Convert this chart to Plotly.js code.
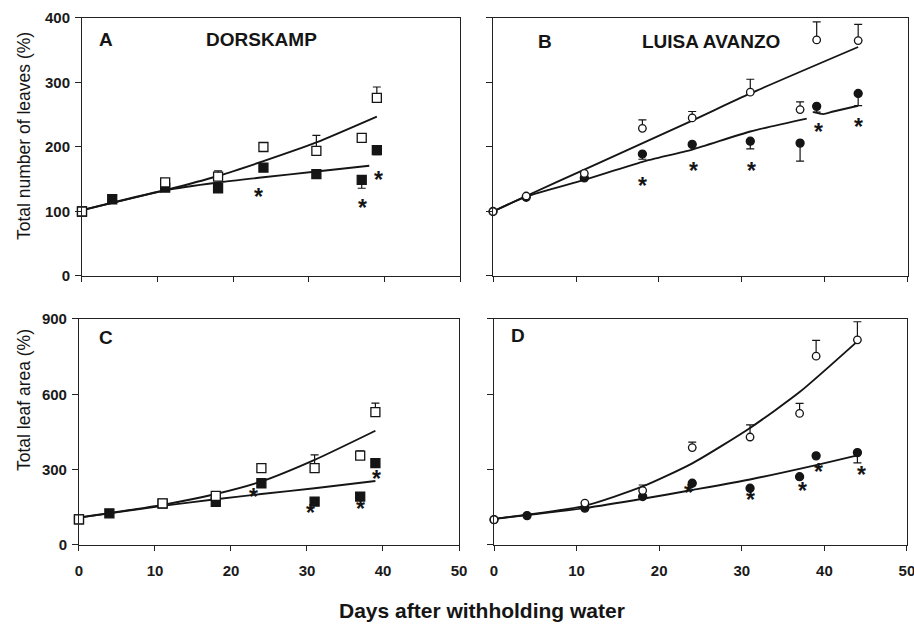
<!DOCTYPE html>
<html><head><meta charset="utf-8">
<script src="https://cdn.plot.ly/plotly-3.0.1.min.js"></script>
<style>html,body{margin:0;padding:0;background:#fff}#chart{width:914px;height:624px}</style>
</head><body><div id="chart"></div>
<script>
// ---------- Panel A : DORSKAMP, total number of leaves (%) ----------
const aCtrlX = [0, 11, 18, 24, 31, 37, 39];
const aCtrlY = [100, 145, 154, 200, 194, 214, 276];
const aCtrlErr = [0, 0, 9, 0, 24, 0, 17];
const aDryX = [0, 4, 11, 18, 24, 31, 37, 39];
const aDryY = [100, 119, 137, 136, 168, 158, 149, 195];
const aDryErr = [0, 0, 0, 0, 0, 6, 13, 7];
const aStarX = [23.4, 37.1, 39.2];
const aStarY = [131, 115, 158];
const aFitCtrlX = [0, 11, 18, 24, 31, 39];
const aFitCtrlY = [102, 133, 155, 178, 207, 247];
const aFitDryX = [0, 11, 18, 24, 31, 38];
const aFitDryY = [102, 133, 145, 153, 162, 171];

// ---------- Panel B : LUISA AVANZO, total number of leaves (%) ----------
const bCtrlX = [0, 4, 11, 18, 24, 31, 37, 39, 44];
const bCtrlY = [100, 124, 159, 229, 245, 285, 258, 366, 365];
const bCtrlErr = [0, 0, 0, 13, 10, 20, 12, 28, 25];
const bDryX = [0, 4, 11, 18, 24, 31, 37, 39, 44];
const bDryY = [100, 122, 152, 189, 204, 209, 206, 263, 283];
const bDryErr = [0, 0, 0, 8, 0, 12, 28, 9, 19];
const bStarX = [18, 24.2, 31.1, 39.2, 44];
const bStarY = [149, 172, 172, 233, 240];
const bFitCtrlX = [0, 4, 11, 24, 31, 44];
const bFitCtrlY = [100, 124, 165, 241, 283, 355];
const bFitDryX = [0, 4, 11, 18, 24, 31, 37.8];
const bFitDryY = [100, 123, 149, 177, 196, 224, 244];
const bFitDryTailX = [38.6, 39.8, 41, 44];
const bFitDryTailY = [254, 251, 255, 264];

// ---------- Panel C : DORSKAMP, total leaf area (%) ----------
const cCtrlX = [0, 11, 18, 24, 31, 37, 39];
const cCtrlY = [102, 166, 196, 306, 306, 356, 529];
const cCtrlErr = [0, 0, 0, 0, 53, 19, 36];
const cDryX = [0, 4, 11, 18, 24, 31, 37, 39];
const cDryY = [102, 126, 165, 172, 246, 173, 193, 326];
const cStarX = [23, 30.4, 37.1, 39.2];
const cStarY = [215, 153, 166, 286];
const cFitCtrlX = [0, 11, 18, 24, 31, 39];
const cFitCtrlY = [109, 160, 203, 253, 339, 455];
const cFitDryX = [0, 11, 18, 24, 31, 39];
const cFitDryY = [109, 156, 182, 203, 226, 255];

// ---------- Panel D : LUISA AVANZO, total leaf area (%) ----------
const dCtrlX = [0, 11, 18, 24, 31, 37, 39, 44];
const dCtrlY = [101, 167, 217, 388, 430, 524, 752, 817];
const dCtrlErr = [0, 0, 22, 22, 48, 40, 63, 72];
const dDryX = [0, 4, 11, 18, 24, 31, 37, 39, 44];
const dDryY = [101, 117, 147, 193, 246, 226, 272, 355, 368];
const dDryErr = [0, 0, 0, 0, 0, 0, 0, 0, 41];
const dStarX = [23.5, 31, 37.3, 39.3, 44.5];
const dStarY = [229, 202, 237, 314, 301];
const dFitCtrlX = [0, 11, 18, 24, 31, 37, 44];
const dFitCtrlY = [104, 156, 233, 325, 466, 609, 811];
const dFitDryX = [0, 11, 18, 24, 31, 39, 44];
const dFitDryY = [104, 147, 184, 219, 261, 318, 357];

// ---------- texts ----------
const panelLetters = ['A', 'B', 'C', 'D'];
const cultivarNames = ['DORSKAMP', 'LUISA AVANZO'];
const yTitles = ['Total number of leaves (%)', 'Total leaf area (%)'];
const xTitle = 'Days after withholding water';
const xTicks = [0, 10, 20, 30, 40, 50];
const leafTicks = [0, 100, 200, 300, 400];
const areaTicks = [0, 300, 600, 900];

const INK = '#151515';
const FONT = 'Liberation Sans, Arial, sans-serif';

function fit(x, y, xa, ya) {
  return {type: 'scatter', mode: 'lines', x: x, y: y, xaxis: xa, yaxis: ya,
    line: {color: INK, width: 1.9, shape: 'spline', smoothing: 0.6},
    hoverinfo: 'skip', showlegend: false, cliponaxis: false};
}
function pts(x, y, err, dir, sym, filled, size, xa, ya) {
  const zeros = err ? err.map(() => 0) : null;
  const t = {type: 'scatter', mode: 'markers', x: x, y: y, xaxis: xa, yaxis: ya,
    marker: {symbol: sym, size: size, color: filled ? INK : '#ffffff',
      line: {color: INK, width: 1.3}},
    showlegend: false, cliponaxis: false};
  if (err) {
    t.error_y = {type: 'data', symmetric: false,
      array: dir === 'up' ? err : zeros,
      arrayminus: dir === 'up' ? zeros : err,
      color: INK, thickness: 1.2, width: 4};
  }
  return t;
}
// significance asterisks as annotations (glyph centred on the point)
const starFont = {family: FONT, size: 23, color: INK, weight: 'bold'};
function starNotes(x, y, xa, ya) {
  return x.map((xv, i) => ({text: '*', xref: xa, yref: ya, x: xv, y: y[i], showarrow: false,
    xanchor: 'center', yanchor: 'middle', yshift: -6, font: starFont}));
}

const data = [
  fit(aFitCtrlX, aFitCtrlY, 'x', 'y'), fit(aFitDryX, aFitDryY, 'x', 'y'),
  pts(aDryX, aDryY, aDryErr, 'down', 'square', true, 9, 'x', 'y'),
  pts(aCtrlX, aCtrlY, aCtrlErr, 'up', 'square', false, 9, 'x', 'y'),

  fit(bFitCtrlX, bFitCtrlY, 'x2', 'y2'), fit(bFitDryX, bFitDryY, 'x2', 'y2'),
  fit(bFitDryTailX, bFitDryTailY, 'x2', 'y2'),
  pts(bDryX, bDryY, bDryErr, 'down', 'circle', true, 8, 'x2', 'y2'),
  pts(bCtrlX, bCtrlY, bCtrlErr, 'up', 'circle', false, 7.5, 'x2', 'y2'),

  fit(cFitCtrlX, cFitCtrlY, 'x3', 'y3'), fit(cFitDryX, cFitDryY, 'x3', 'y3'),
  pts(cDryX, cDryY, null, 'down', 'square', true, 9, 'x3', 'y3'),
  pts(cCtrlX, cCtrlY, cCtrlErr, 'up', 'square', false, 9, 'x3', 'y3'),

  fit(dFitCtrlX, dFitCtrlY, 'x4', 'y4'), fit(dFitDryX, dFitDryY, 'x4', 'y4'),
  pts(dDryX, dDryY, dDryErr, 'down', 'circle', true, 8, 'x4', 'y4'),
  pts(dCtrlX, dCtrlY, dCtrlErr, 'up', 'circle', false, 7.5, 'x4', 'y4')
];

const tickFont = {family: FONT, size: 15, color: '#1a1a1a', weight: 'bold'};
function xax(domain, anchor, labels) {
  return {domain: domain, anchor: anchor, range: [0, 50], tickmode: 'array', tickvals: xTicks,
    showticklabels: labels, tickfont: tickFont, ticks: 'outside', ticklen: 5, tickwidth: 1,
    tickcolor: '#222', showline: true, mirror: true, linecolor: '#222', linewidth: 1,
    ticklabelstandoff: 7, ticklabeloverflow: 'allow',
    showgrid: false, zeroline: false, fixedrange: true};
}
function yax(domain, anchor, range, vals, labels) {
  return {domain: domain, anchor: anchor, range: range, tickmode: 'array', tickvals: vals,
    showticklabels: labels, tickfont: tickFont, ticks: 'outside', ticklen: 6, tickwidth: 1,
    tickcolor: '#222', showline: true, mirror: true, linecolor: '#222', linewidth: 1,
    ticklabelstandoff: 2, showgrid: false, zeroline: false, fixedrange: true};
}
function xin(over, anchor) {
  return {overlaying: over, anchor: anchor, range: [0, 50], tickmode: 'array', tickvals: xTicks,
    showticklabels: false, ticks: 'inside', ticklen: 5, tickcolor: '#222', showline: false,
    showgrid: false, zeroline: false, fixedrange: true};
}
function yin(over, anchor, range, vals) {
  return {overlaying: over, anchor: anchor, range: range, tickmode: 'array', tickvals: vals,
    showticklabels: false, ticks: 'inside', ticklen: 5, tickcolor: '#222', showline: false,
    showgrid: false, zeroline: false, fixedrange: true};
}

const topY = [0.5577, 0.9712], botY = [0.1266, 0.4888];
const lab = {family: FONT, size: 19, color: INK, weight: 'bold'};
const ytFont = {family: FONT, size: 17.5, color: INK};

const layout = {
  width: 914, height: 624, margin: {l: 0, r: 0, t: 0, b: 0},
  paper_bgcolor: '#fff', plot_bgcolor: '#fff', showlegend: false,
  xaxis: xax([0.0897, 0.5033], 'y', false),
  yaxis: yax(topY, 'x', [0, 400], leafTicks, true),
  xaxis2: xax([0.5394, 0.9934], 'y2', false),
  yaxis2: yax(topY, 'x2', [0, 400], leafTicks, false),
  xaxis3: xax([0.0864, 0.5022], 'y3', true),
  yaxis3: yax(botY, 'x3', [0, 900], areaTicks, true),
  xaxis4: xax([0.5405, 0.9923], 'y4', true),
  yaxis4: yax(botY, 'x4', [0, 900], areaTicks, false),
  xaxis5: xin('x', 'y'), yaxis5: yin('y', 'x', [0, 400], leafTicks),
  xaxis6: xin('x2', 'y2'), yaxis6: yin('y2', 'x2', [0, 400], leafTicks),
  xaxis7: xin('x3', 'y3'), yaxis7: yin('y3', 'x3', [0, 900], areaTicks),
  xaxis8: xin('x4', 'y4'), yaxis8: yin('y4', 'x4', [0, 900], areaTicks),
  annotations: [
    {text: panelLetters[0], xref: 'x', yref: 'y', x: 3.2, y: 366, showarrow: false, font: lab},
    {text: cultivarNames[0], xref: 'x', yref: 'y', x: 23.8, y: 366, showarrow: false, font: lab},
    {text: panelLetters[1], xref: 'x2', yref: 'y2', x: 6.3, y: 364, showarrow: false, font: lab},
    {text: cultivarNames[1], xref: 'x2', yref: 'y2', x: 26.3, y: 364, showarrow: false, font: lab},
    {text: panelLetters[2], xref: 'x3', yref: 'y3', x: 3.5, y: 828, showarrow: false, font: lab},
    {text: panelLetters[3], xref: 'x4', yref: 'y4', x: 2.9, y: 833, showarrow: false, font: lab},
    {text: yTitles[0], xref: 'paper', yref: 'paper', x: 24 / 914, y: 1 - 136 / 624, textangle: -90,
      xanchor: 'center', yanchor: 'middle', showarrow: false, font: ytFont},
    {text: yTitles[1], xref: 'paper', yref: 'paper', x: 24 / 914, y: 1 - 400 / 624, textangle: -90,
      xanchor: 'center', yanchor: 'middle', showarrow: false, font: ytFont},
    {text: xTitle, xref: 'paper', yref: 'paper', x: 482 / 914, y: 1 - 610 / 624,
      xanchor: 'center', yanchor: 'middle', showarrow: false,
      font: {family: FONT, size: 21, color: INK, weight: 'bold'}}
  ].concat(
    starNotes(aStarX, aStarY, 'x', 'y'),
    starNotes(bStarX, bStarY, 'x2', 'y2'),
    starNotes(cStarX, cStarY, 'x3', 'y3'),
    starNotes(dStarX, dStarY, 'x4', 'y4')
  )
};

Plotly.newPlot('chart', data, layout, {displayModeBar: false, staticPlot: true});
</script>
</body></html>
